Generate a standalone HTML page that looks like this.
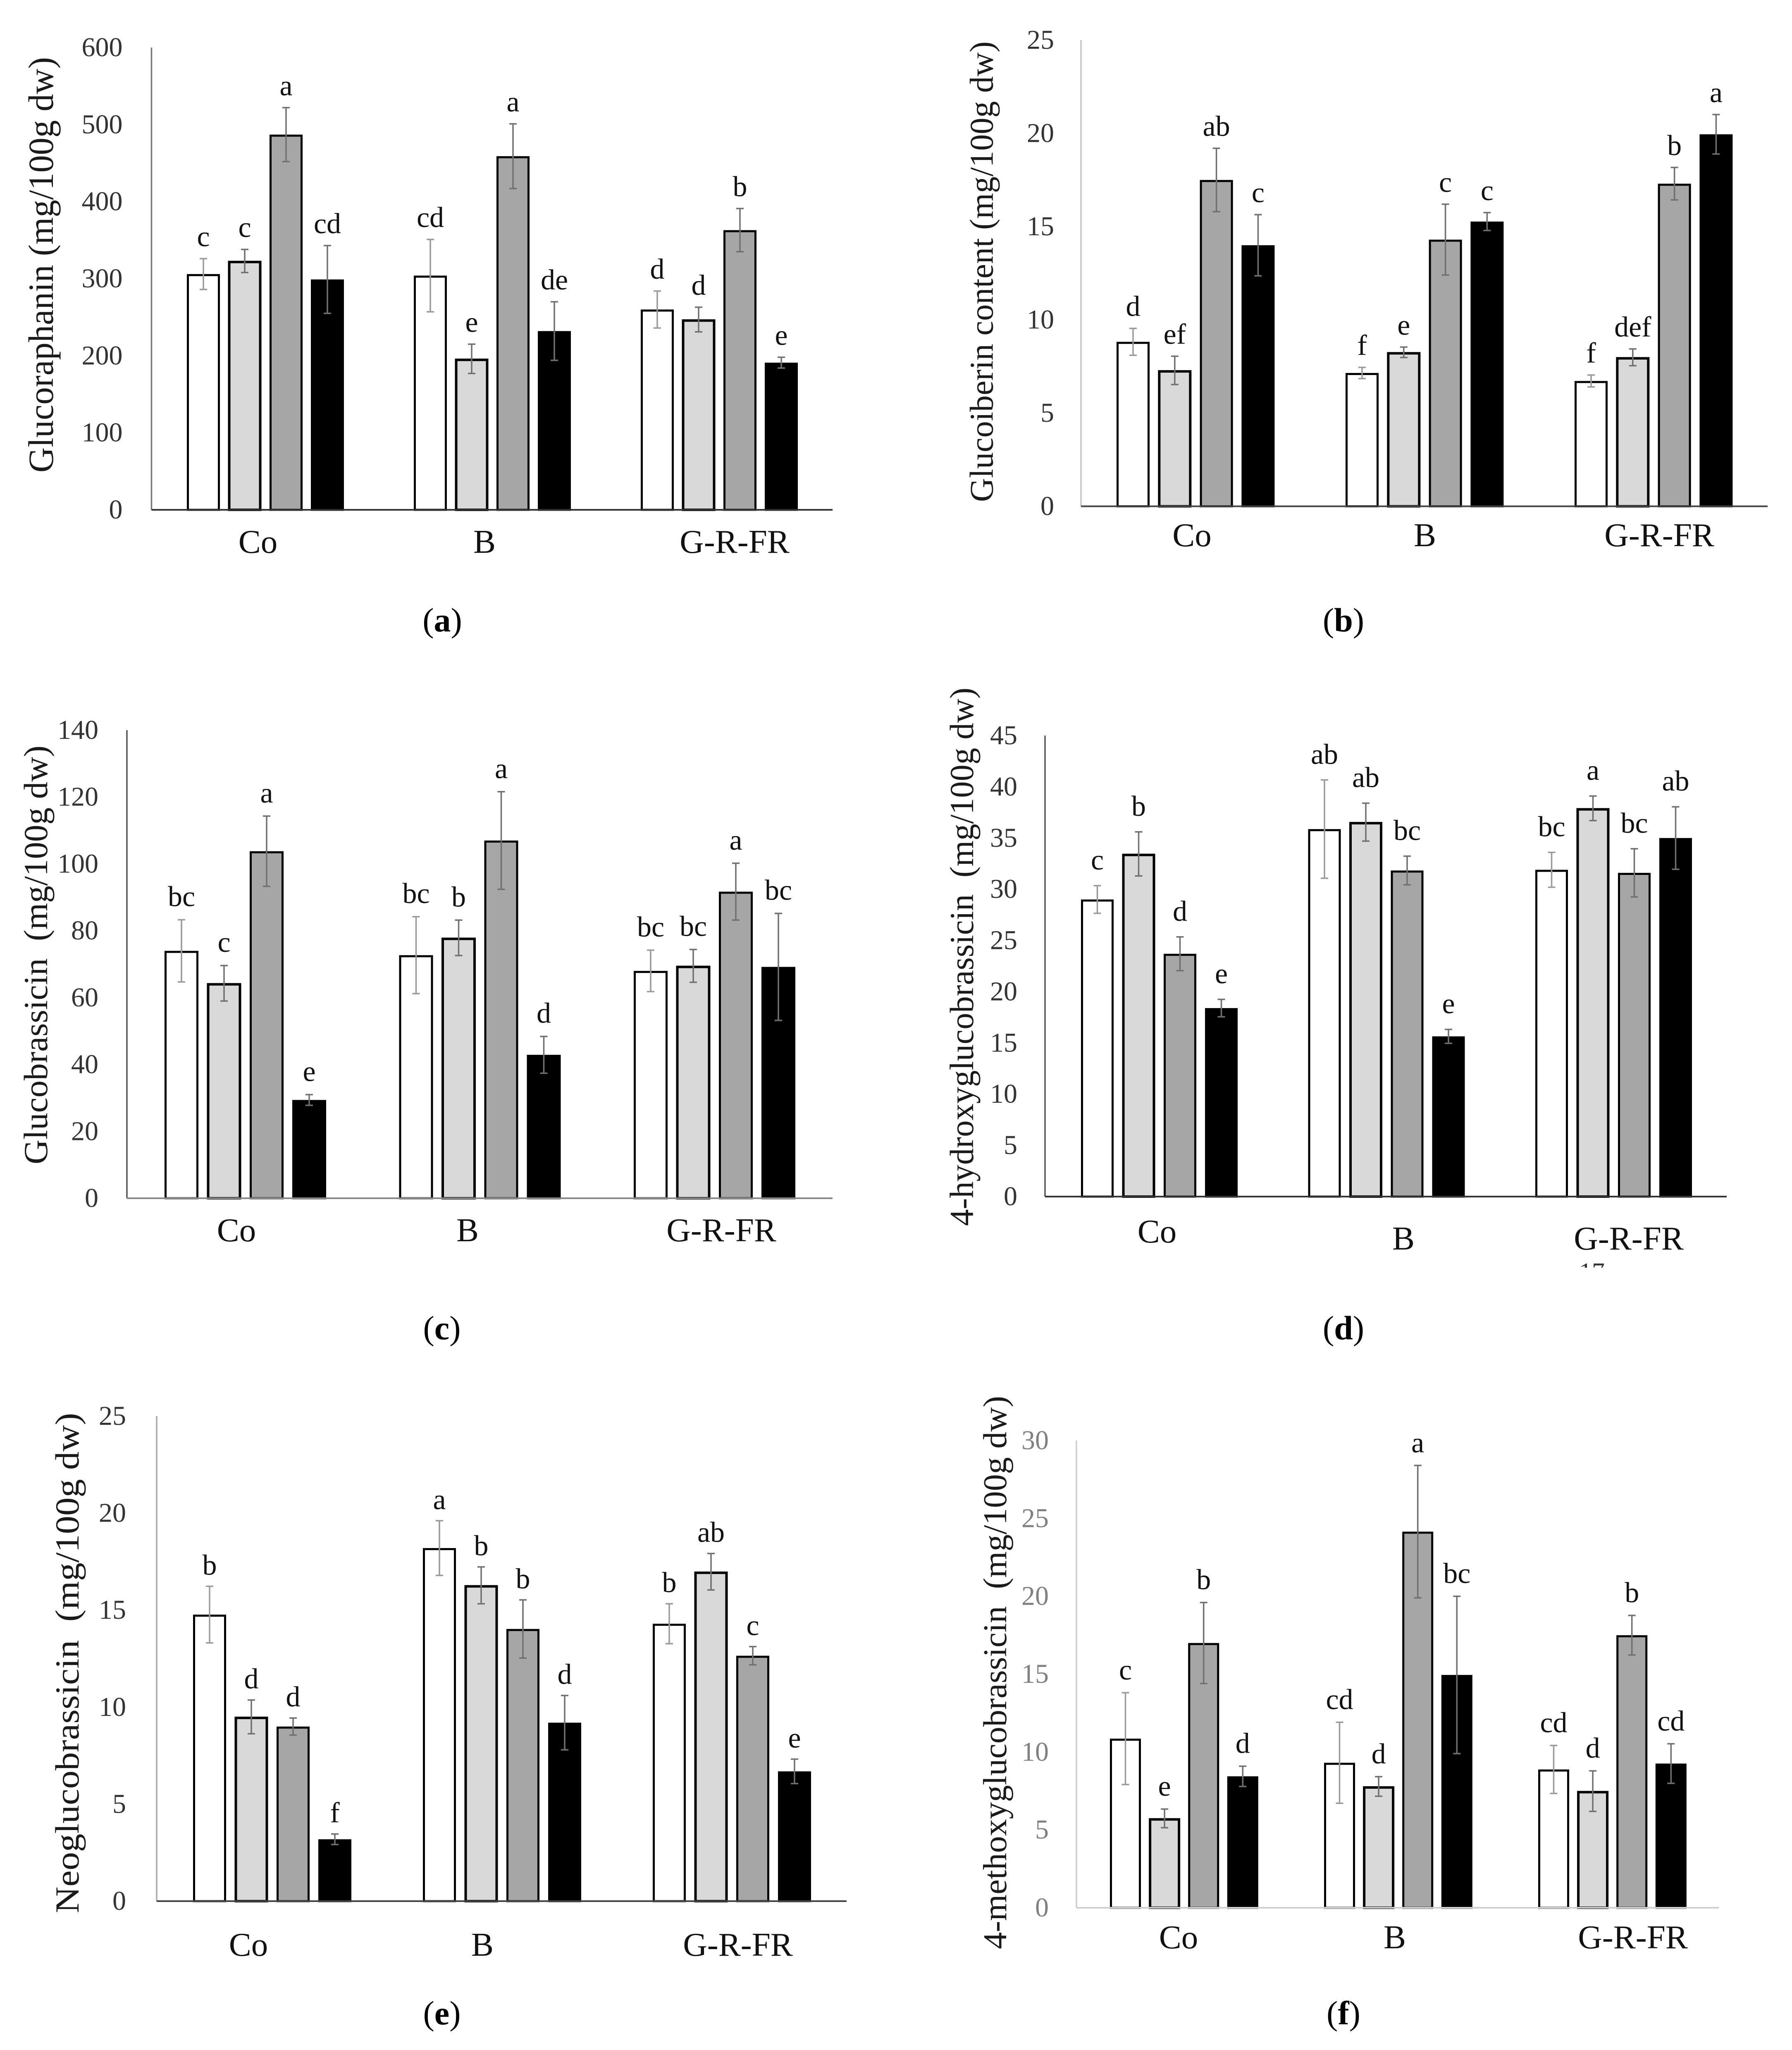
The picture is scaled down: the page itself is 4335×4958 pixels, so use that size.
<!DOCTYPE html>
<html lang="en">
<head>
<meta charset="utf-8">
<title>Glucosinolate content bar charts</title>
<style>
  html, body { margin: 0; padding: 0; background: #fff; }
  svg { display: block; font-family: "Liberation Serif", "DejaVu Serif", serif; }
</style>
</head>
<body>
<svg id="figure" xmlns="http://www.w3.org/2000/svg" width="4335" height="4958" viewBox="0 0 4335 4958">
  <rect x="0" y="0" width="4335" height="4958" fill="#ffffff"/>
  <g id="panel-a"></g>
  <g id="panel-b"></g>
  <g id="panel-c"></g>
  <g id="panel-d"></g>
  <g id="panel-e"></g>
  <g id="panel-f"></g>
  <clipPath id="fragment-clip"><rect x="3800" y="3052" width="100" height="14"/></clipPath>
  <text x="3820" y="3097" font-size="62" fill="#333" clip-path="url(#fragment-clip)">17</text>
</svg>
<script>
// Shared categories (each inner row of a values array is one category, four treatments per category)
const categories = ["Co", "B", "G-R-FR"];

// Panel (a)
const ticksA = [0, 100, 200, 300, 400, 500, 600];
const valuesA = [[306, 323, 487, 299], [304, 196, 459, 232], [260, 247, 363, 191]];
const errorsA = [[20, 15, 35, 44], [47, 19, 42, 38], [24, 16, 28, 7]];
const lettersA = [["c", "c", "a", "cd"], ["cd", "e", "a", "de"], ["d", "d", "b", "e"]];

// Panel (b)
const ticksB = [0, 5, 10, 15, 20, 25];
const valuesB = [[8.82, 7.29, 17.5, 14.0], [7.15, 8.26, 14.3, 15.27], [6.72, 7.99, 17.3, 19.95]];
const errorsB = [[0.72, 0.76, 1.7, 1.64], [0.3, 0.28, 1.9, 0.48], [0.32, 0.45, 0.87, 1.06]];
const lettersB = [["d", "ef", "ab", "c"], ["f", "e", "c", "c"], ["f", "def", "b", "a"]];

// Panel (c)
const ticksC = [0, 20, 40, 60, 80, 100, 120, 140];
const valuesC = [[74.0, 64.3, 103.8, 29.4], [72.7, 77.9, 107, 42.9], [68.0, 69.5, 91.7, 69.2]];
const errorsC = [[9.3, 5.3, 10.5, 1.6], [11.5, 5.3, 14.6, 5.5], [6.2, 4.9, 8.5, 16]];
const lettersC = [["bc", "c", "a", "e"], ["bc", "b", "a", "d"], ["bc", "bc", "a", "bc"]];

// Panel (d)
const ticksD = [0, 5, 10, 15, 20, 25, 30, 35, 40, 45];
const valuesD = [[29.0, 33.45, 23.7, 18.4], [35.87, 36.55, 31.83, 15.64], [31.9, 37.9, 31.6, 35.0]];
const errorsD = [[1.35, 2.15, 1.65, 0.85], [4.8, 1.85, 1.4, 0.68], [1.7, 1.2, 2.35, 3.05]];
const lettersD = [["c", "b", "d", "e"], ["ab", "ab", "bc", "e"], ["bc", "a", "bc", "ab"]];

// Panel (e)
const ticksE = [0, 5, 10, 15, 20, 25];
const valuesE = [[14.77, 9.5, 9.0, 3.19], [18.2, 16.28, 14.03, 9.2], [14.3, 16.98, 12.65, 6.69]];
const errorsE = [[1.46, 0.87, 0.44, 0.27], [1.41, 0.95, 1.5, 1.4], [1.03, 0.94, 0.47, 0.63]];
const lettersE = [["b", "d", "d", "f"], ["a", "b", "b", "d"], ["b", "ab", "c", "e"]];

// Panel (f)
const ticksF = [0, 5, 10, 15, 20, 25, 30];
const valuesF = [[10.86, 5.74, 17.0, 8.44], [9.31, 7.79, 24.15, 14.95], [8.88, 7.49, 17.5, 9.26]];
const errorsF = [[2.95, 0.6, 2.6, 0.65], [2.6, 0.63, 4.25, 5.05], [1.54, 1.3, 1.27, 1.27]];
const lettersF = [["c", "e", "b", "d"], ["cd", "d", "a", "bc"], ["cd", "d", "b", "cd"]];

const SVG_NS = "http://www.w3.org/2000/svg";
const barFills = ["#ffffff", "#d9d9d9", "#a6a6a6", "#000000"];
const barNames = ["white", "light-gray", "mid-gray", "black"];

function make(tag, attrs, parent) {
  const node = document.createElementNS(SVG_NS, tag);
  for (const key in attrs) node.setAttribute(key, attrs[key]);
  parent.appendChild(node);
  return node;
}

function drawPanel(cfg) {
  const root = document.getElementById(cfg.id);
  const maxTick = cfg.ticks[cfg.ticks.length - 1];
  const yScale = v => cfg.base - (v / maxTick) * (cfg.base - cfg.top);
  const xScale = (g, s) => cfg.x0 + g * cfg.groupPitch + s * cfg.barPitch;

  // bars, error bars and significance letters
  cfg.values.forEach((row, g) => {
    row.forEach((value, s) => {
      const left = xScale(g, s);
      const center = left + cfg.barW / 2;
      const topY = yScale(value);
      const bar = make("rect", {
        x: left + 2.5,
        y: topY + 2.5,
        width: cfg.barW - 5,
        height: cfg.base - topY - 2.5,
        fill: barFills[s],
        stroke: "#000000",
        "stroke-width": s === 1 ? 6 : 5
      }, root);
      
      

      const err = cfg.errors[g][s];
      const upper = yScale(value + err);
      const lower = yScale(value - err);
      const whisker = make("path", {
        d: "M" + center + " " + upper + "V" + lower +
           "M" + (center - 9) + " " + upper + "H" + (center + 9) +
           "M" + (center - 9) + " " + lower + "H" + (center + 9),
        fill: "none",
        stroke: s === 0 ? "#9a9a9a" : "#707070",
        "stroke-width": 3.5
      }, root);
      
      

      const letter = make("text", {
        x: center,
        y: upper - cfg.letterGap,
        "text-anchor": "middle",
        "font-size": 70,
        fill: "#111111"
      }, root);
      letter.textContent = cfg.letters[g][s];
      
      
    });
  });

  // axes
  const yAxis = make("line", { x1: cfg.axisX, x2: cfg.axisX, y1: cfg.top, y2: cfg.base, stroke: cfg.yAxisColor, "stroke-width": 3.5 }, root);
  
  

  const xAxis = make("line", { x1: cfg.axisX, x2: cfg.right, y1: cfg.base, y2: cfg.base, stroke: cfg.xAxisColor, "stroke-width": 4 }, root);
  
  

  // y tick labels
  cfg.ticks.forEach(t => {
    const tick = make("text", {
      x: cfg.axisX - cfg.tickGap,
      y: yScale(t) + 21,
      "text-anchor": "end",
      "font-size": 66,
      fill: cfg.tickColor
    }, root);
    tick.textContent = String(t);
    
    
  });

  // category labels
  categories.forEach((c, i) => {
    const cat = make("text", {
      x: cfg.catX[i],
      y: cfg.catY[i],
      "text-anchor": "middle",
      "font-size": 81,
      fill: "#111111"
    }, root);
    cat.textContent = c;
    
    
  });

  // y axis title
  const titleLen = cfg.titleBottom - cfg.titleTop;
  const title = make("text", {
    transform: "translate(" + cfg.titleX + " " + cfg.titleBottom + ") rotate(-90)",
    x: 0,
    y: 0,
    "font-size": cfg.titleSize,
    textLength: titleLen,
    lengthAdjust: "spacingAndGlyphs",
    fill: "#1a1a1a"
  }, root);
  title.textContent = cfg.title;
  
  

  // caption
  const caption = make("text", {
    x: cfg.capX,
    y: cfg.capY,
    "text-anchor": "middle",
    "font-size": 82,
    fill: "#000000"
  }, root);
  
  
  caption.appendChild(document.createTextNode("("));
  const boldLetter = make("tspan", { "font-weight": "bold" }, caption);
  boldLetter.textContent = cfg.capLetter;
  caption.appendChild(document.createTextNode(")"));
}

drawPanel({
  id: "panel-a", ticks: ticksA, values: valuesA, errors: errorsA, letters: lettersA,
  axisX: 366.5, top: 115, base: 1233, right: 2014, x0: 452, groupPitch: 549, barPitch: 100, barW: 80,
  letterGap: 30, tickGap: 70, tickColor: "#333333", yAxisColor: "#777777", xAxisColor: "#333333",
  catX: [624, 1172, 1777], catY: [1337, 1337, 1337],
  title: "Glucoraphanin (mg/100g dw)", titleX: 128, titleTop: 138, titleBottom: 1143, titleSize: 86,
  capX: 1070, capY: 1527, capLetter: "a"
});
drawPanel({
  id: "panel-b", ticks: ticksB, values: valuesB, errors: errorsB, letters: lettersB,
  axisX: 2615, top: 97, base: 1224.5, right: 4276, x0: 2701, groupPitch: 554, barPitch: 100.8, barW: 80,
  letterGap: 30, tickGap: 65, tickColor: "#333333", yAxisColor: "#c4c4c4", xAxisColor: "#444444",
  catX: [2883.5, 3447, 4014], catY: [1321, 1321, 1321],
  title: "Glucoiberin content (mg/100g dw)", titleX: 2401.5, titleTop: 100, titleBottom: 1214, titleSize: 80,
  capX: 3250, capY: 1527, capLetter: "b"
});
drawPanel({
  id: "panel-c", ticks: ticksC, values: valuesC, errors: errorsC, letters: lettersC,
  axisX: 307, top: 1766, base: 2898, right: 2014, x0: 398, groupPitch: 567.5, barPitch: 103, barW: 82,
  letterGap: 33, tickGap: 69, tickColor: "#333333", yAxisColor: "#555555", xAxisColor: "#888888",
  catX: [572, 1131, 1745], catY: [3002, 3002, 3002],
  title: "Glucobrassicin \u00a0(mg/100g dw)", titleX: 114, titleTop: 1803, titleBottom: 2816, titleSize: 82,
  capX: 1069, capY: 3239, capLetter: "c"
});
drawPanel({
  id: "panel-d", ticks: ticksD, values: valuesD, errors: errorsD, letters: lettersD,
  axisX: 2528, top: 1779, base: 2894, right: 4177, x0: 2615, groupPitch: 549.5, barPitch: 100, barW: 79,
  letterGap: 39, tickGap: 67, tickColor: "#333333", yAxisColor: "#555555", xAxisColor: "#333333",
  catX: [2799, 3395, 3940], catY: [3005, 3022, 3022],
  title: "4-hydroxyglucobrassicin \u00a0(mg/100g dw)", titleX: 2354, titleTop: 1663, titleBottom: 2965, titleSize: 82,
  capX: 3250, capY: 3239, capLetter: "d"
});
drawPanel({
  id: "panel-e", ticks: ticksE, values: valuesE, errors: errorsE, letters: lettersE,
  axisX: 379, top: 3425, base: 4598, right: 2048, x0: 467, groupPitch: 556, barPitch: 101, barW: 80,
  letterGap: 28, tickGap: 74, tickColor: "#333333", yAxisColor: "#a8a8a8", xAxisColor: "#444444",
  catX: [601, 1167, 1785], catY: [4730, 4730, 4730],
  title: "Neoglucobrassicin \u00a0(mg/100g dw)", titleX: 190, titleTop: 3417, titleBottom: 4627, titleSize: 82,
  capX: 1069, capY: 4896, capLetter: "e"
});
drawPanel({
  id: "panel-f", ticks: ticksF, values: valuesF, errors: errorsF, letters: lettersF,
  axisX: 2604, top: 3484, base: 4614, right: 4158, x0: 2685, groupPitch: 518, barPitch: 94.6, barW: 75,
  letterGap: 32, tickGap: 67, tickColor: "#808080", yAxisColor: "#cfcfcf", xAxisColor: "#cfcfcf",
  catX: [2851, 3374, 3950], catY: [4712, 4712, 4712],
  title: "4-methoxyglucobrassicin \u00a0(mg/100g dw)", titleX: 2434, titleTop: 3376, titleBottom: 4714, titleSize: 80,
  capX: 3250, capY: 4896, capLetter: "f"
});
</script>
</body>
</html>
